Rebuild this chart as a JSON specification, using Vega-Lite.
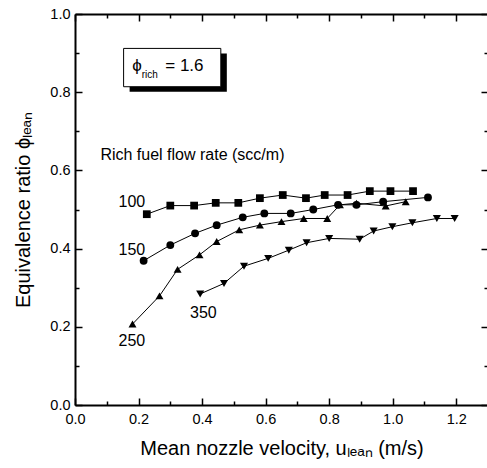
{
  "$schema": "https://vega.github.io/schema/vega-lite/v6.json",
  "width": 413,
  "height": 391,
  "autosize": {"type": "none"},
  "padding": {"left": 75, "top": 14, "right": 0, "bottom": 63},
  "background": "white",
  "config": {
    "view": {"stroke": null},
    "font": "Liberation Sans",
    "axis": {"labelFont": "Liberation Sans", "titleFont": "Liberation Sans", "labelColor": "black", "titleColor": "black", "titleFontWeight": "normal", "domainColor": "black", "tickColor": "black", "grid": false}
  },
  "datasets": {
    "pts": [
      {"series": "100", "u": 0.226, "phi": 0.488},
      {"series": "100", "u": 0.300, "phi": 0.510},
      {"series": "100", "u": 0.375, "phi": 0.510},
      {"series": "100", "u": 0.443, "phi": 0.517},
      {"series": "100", "u": 0.514, "phi": 0.517},
      {"series": "100", "u": 0.582, "phi": 0.529},
      {"series": "100", "u": 0.654, "phi": 0.537},
      {"series": "100", "u": 0.727, "phi": 0.529},
      {"series": "100", "u": 0.786, "phi": 0.537},
      {"series": "100", "u": 0.858, "phi": 0.537},
      {"series": "100", "u": 0.928, "phi": 0.547},
      {"series": "100", "u": 0.993, "phi": 0.547},
      {"series": "100", "u": 1.064, "phi": 0.547},
      {"series": "150", "u": 0.216, "phi": 0.369},
      {"series": "150", "u": 0.300, "phi": 0.409},
      {"series": "150", "u": 0.378, "phi": 0.439},
      {"series": "150", "u": 0.446, "phi": 0.460},
      {"series": "150", "u": 0.528, "phi": 0.480},
      {"series": "150", "u": 0.596, "phi": 0.490},
      {"series": "150", "u": 0.679, "phi": 0.490},
      {"series": "150", "u": 0.750, "phi": 0.500},
      {"series": "150", "u": 0.828, "phi": 0.512},
      {"series": "150", "u": 0.886, "phi": 0.512},
      {"series": "150", "u": 0.970, "phi": 0.520},
      {"series": "150", "u": 1.111, "phi": 0.531},
      {"series": "250", "u": 0.181, "phi": 0.207},
      {"series": "250", "u": 0.266, "phi": 0.279},
      {"series": "250", "u": 0.323, "phi": 0.347},
      {"series": "250", "u": 0.392, "phi": 0.384},
      {"series": "250", "u": 0.446, "phi": 0.418},
      {"series": "250", "u": 0.517, "phi": 0.448},
      {"series": "250", "u": 0.582, "phi": 0.460},
      {"series": "250", "u": 0.650, "phi": 0.469},
      {"series": "250", "u": 0.720, "phi": 0.477},
      {"series": "250", "u": 0.794, "phi": 0.477},
      {"series": "250", "u": 0.834, "phi": 0.512},
      {"series": "250", "u": 0.886, "phi": 0.516},
      {"series": "250", "u": 0.978, "phi": 0.509},
      {"series": "250", "u": 1.041, "phi": 0.520},
      {"series": "350", "u": 0.394, "phi": 0.284},
      {"series": "350", "u": 0.469, "phi": 0.311},
      {"series": "350", "u": 0.532, "phi": 0.355},
      {"series": "350", "u": 0.608, "phi": 0.375},
      {"series": "350", "u": 0.673, "phi": 0.396},
      {"series": "350", "u": 0.729, "phi": 0.415},
      {"series": "350", "u": 0.800, "phi": 0.426},
      {"series": "350", "u": 0.896, "phi": 0.424},
      {"series": "350", "u": 0.940, "phi": 0.445},
      {"series": "350", "u": 0.999, "phi": 0.456},
      {"series": "350", "u": 1.062, "phi": 0.466},
      {"series": "350", "u": 1.139, "phi": 0.477},
      {"series": "350", "u": 1.195, "phi": 0.477}
    ],
    "labels": [
      {"label": "100", "u": 0.179, "phi": 0.520},
      {"label": "150", "u": 0.179, "phi": 0.396},
      {"label": "250", "u": 0.179, "phi": 0.164},
      {"label": "350", "u": 0.404, "phi": 0.236}
    ],
    "note": [{"label": "Rich fuel flow rate (scc/m)", "u": 0.08, "phi": 0.64}],
    "box": [{"u1": 0.153, "u2": 0.459, "p1": 0.814, "p2": 0.912}],
    "boxphi": [{"label": "ϕ", "u": 0.18, "phi": 0.866}],
    "boxsub": [{"label": "rich", "u": 0.21, "phi": 0.843}],
    "boxval": [{"label": "= 1.6", "u": 0.284, "phi": 0.866}]
  },
  "layer": [
    {
      "data": {"name": "pts"},
      "mark": {"type": "line", "color": "black", "strokeWidth": 1},
      "encoding": {
        "x": {"field": "u", "type": "quantitative", "scale": {"domain": [0, 1.3], "nice": false, "zero": false},
          "axis": {"orient": "bottom", "values": [0,0.1,0.2,0.3,0.4,0.5,0.6,0.7,0.8,0.9,1.0,1.1,1.2,1.3], "format": ".1f",
            "labelExpr": "round(datum.value*10)%2===0 && datum.value < 1.25 ? datum.label : ''",
            "tickSize": {"condition": {"test": "round(datum.value*10)%2===0", "value": -7}, "value": -4},
            "tickWidth": 1.5, "domainWidth": 2, "labelPadding": 14, "labelFontSize": 14.5, "labelFlush": false,
            "title": "Mean nozzle velocity, uₗₑₐₙ (m/s)", "titleFontSize": 20, "titlePadding": 13}},
        "y": {"field": "phi", "type": "quantitative", "scale": {"domain": [0, 1.0], "nice": false, "zero": false},
          "axis": {"orient": "left", "values": [0,0.1,0.2,0.3,0.4,0.5,0.6,0.7,0.8,0.9,1.0], "format": ".1f",
            "labelExpr": "round(datum.value*10)%2===0 ? datum.label : ''",
            "tickSize": {"condition": {"test": "round(datum.value*10)%2===0", "value": -7}, "value": -4},
            "tickWidth": 1.5, "domainWidth": 2, "labelPadding": 12, "labelFontSize": 14.5, "labelFlush": false,
            "title": "Equivalence ratio ϕₗₑₐₙ", "titleFontSize": 20, "titlePadding": 16}},
        "detail": {"field": "series"}
      }
    },
    {
      "data": {"name": "pts"},
      "mark": {"type": "point", "filled": true, "color": "black", "opacity": 1},
      "encoding": {
        "x": {"field": "u", "type": "quantitative", "axis": null},
        "y": {"field": "phi", "type": "quantitative", "axis": null},
        "shape": {"field": "series", "type": "nominal", "scale": {"domain": ["100","150","250","350"], "range": ["square","circle","triangle-up","triangle-down"]}, "legend": null},
        "size": {"field": "series", "type": "nominal", "scale": {"domain": ["100","150","250","350"], "range": [60, 65, 140, 140]}, "legend": null}
      }
    },
    {
      "data": {"name": "labels"},
      "mark": {"type": "text", "fontSize": 16, "color": "black", "align": "center", "baseline": "middle"},
      "encoding": {
        "x": {"field": "u", "type": "quantitative", "axis": null},
        "y": {"field": "phi", "type": "quantitative", "axis": null},
        "text": {"field": "label"}
      }
    },
    {
      "data": {"name": "note"},
      "mark": {"type": "text", "fontSize": 16, "color": "black", "align": "left", "baseline": "middle"},
      "encoding": {
        "x": {"field": "u", "type": "quantitative", "axis": null},
        "y": {"field": "phi", "type": "quantitative", "axis": null},
        "text": {"field": "label"}
      }
    },
    {
      "data": {"name": "box"},
      "mark": {"type": "rect", "color": "black", "xOffset": 6, "x2Offset": 6, "yOffset": 5, "y2Offset": 5},
      "encoding": {
        "x": {"field": "u1", "type": "quantitative", "axis": null},
        "x2": {"field": "u2"},
        "y": {"field": "p1", "type": "quantitative", "axis": null},
        "y2": {"field": "p2"}
      }
    },
    {
      "data": {"name": "box"},
      "mark": {"type": "rect", "fill": "white", "stroke": "black", "strokeWidth": 1},
      "encoding": {
        "x": {"field": "u1", "type": "quantitative", "axis": null},
        "x2": {"field": "u2"},
        "y": {"field": "p1", "type": "quantitative", "axis": null},
        "y2": {"field": "p2"}
      }
    },
    {
      "data": {"name": "boxphi"},
      "mark": {"type": "text", "fontSize": 17, "color": "black", "align": "left", "baseline": "middle"},
      "encoding": {
        "x": {"field": "u", "type": "quantitative", "axis": null},
        "y": {"field": "phi", "type": "quantitative", "axis": null},
        "text": {"field": "label"}
      }
    },
    {
      "data": {"name": "boxsub"},
      "mark": {"type": "text", "fontSize": 10, "color": "black", "align": "left", "baseline": "middle"},
      "encoding": {
        "x": {"field": "u", "type": "quantitative", "axis": null},
        "y": {"field": "phi", "type": "quantitative", "axis": null},
        "text": {"field": "label"}
      }
    },
    {
      "data": {"name": "boxval"},
      "mark": {"type": "text", "fontSize": 17, "color": "black", "align": "left", "baseline": "middle"},
      "encoding": {
        "x": {"field": "u", "type": "quantitative", "axis": null},
        "y": {"field": "phi", "type": "quantitative", "axis": null},
        "text": {"field": "label"}
      }
    },
    {
      "data": {"name": "box"},
      "mark": {"type": "point", "opacity": 0},
      "encoding": {
        "x": {"field": "u1", "type": "quantitative",
          "axis": {"orient": "top", "values": [0,0.1,0.2,0.3,0.4,0.5,0.6,0.7,0.8,0.9,1.0,1.1,1.2,1.3], "labels": false, "title": null,
            "tickSize": {"condition": {"test": "round(datum.value*10)%2===0", "value": -7}, "value": -4},
            "tickWidth": 1.5, "domainWidth": 2}},
        "y": {"field": "p1", "type": "quantitative",
          "axis": {"orient": "right", "values": [0,0.1,0.2,0.3,0.4,0.5,0.6,0.7,0.8,0.9,1.0], "labels": false, "title": null,
            "tickSize": {"condition": {"test": "round(datum.value*10)%2===0", "value": -7}, "value": -4},
            "tickWidth": 1.5, "domainWidth": 2}}
      }
    }
  ],
  "resolve": {"axis": {"x": "independent", "y": "independent"}}
}
